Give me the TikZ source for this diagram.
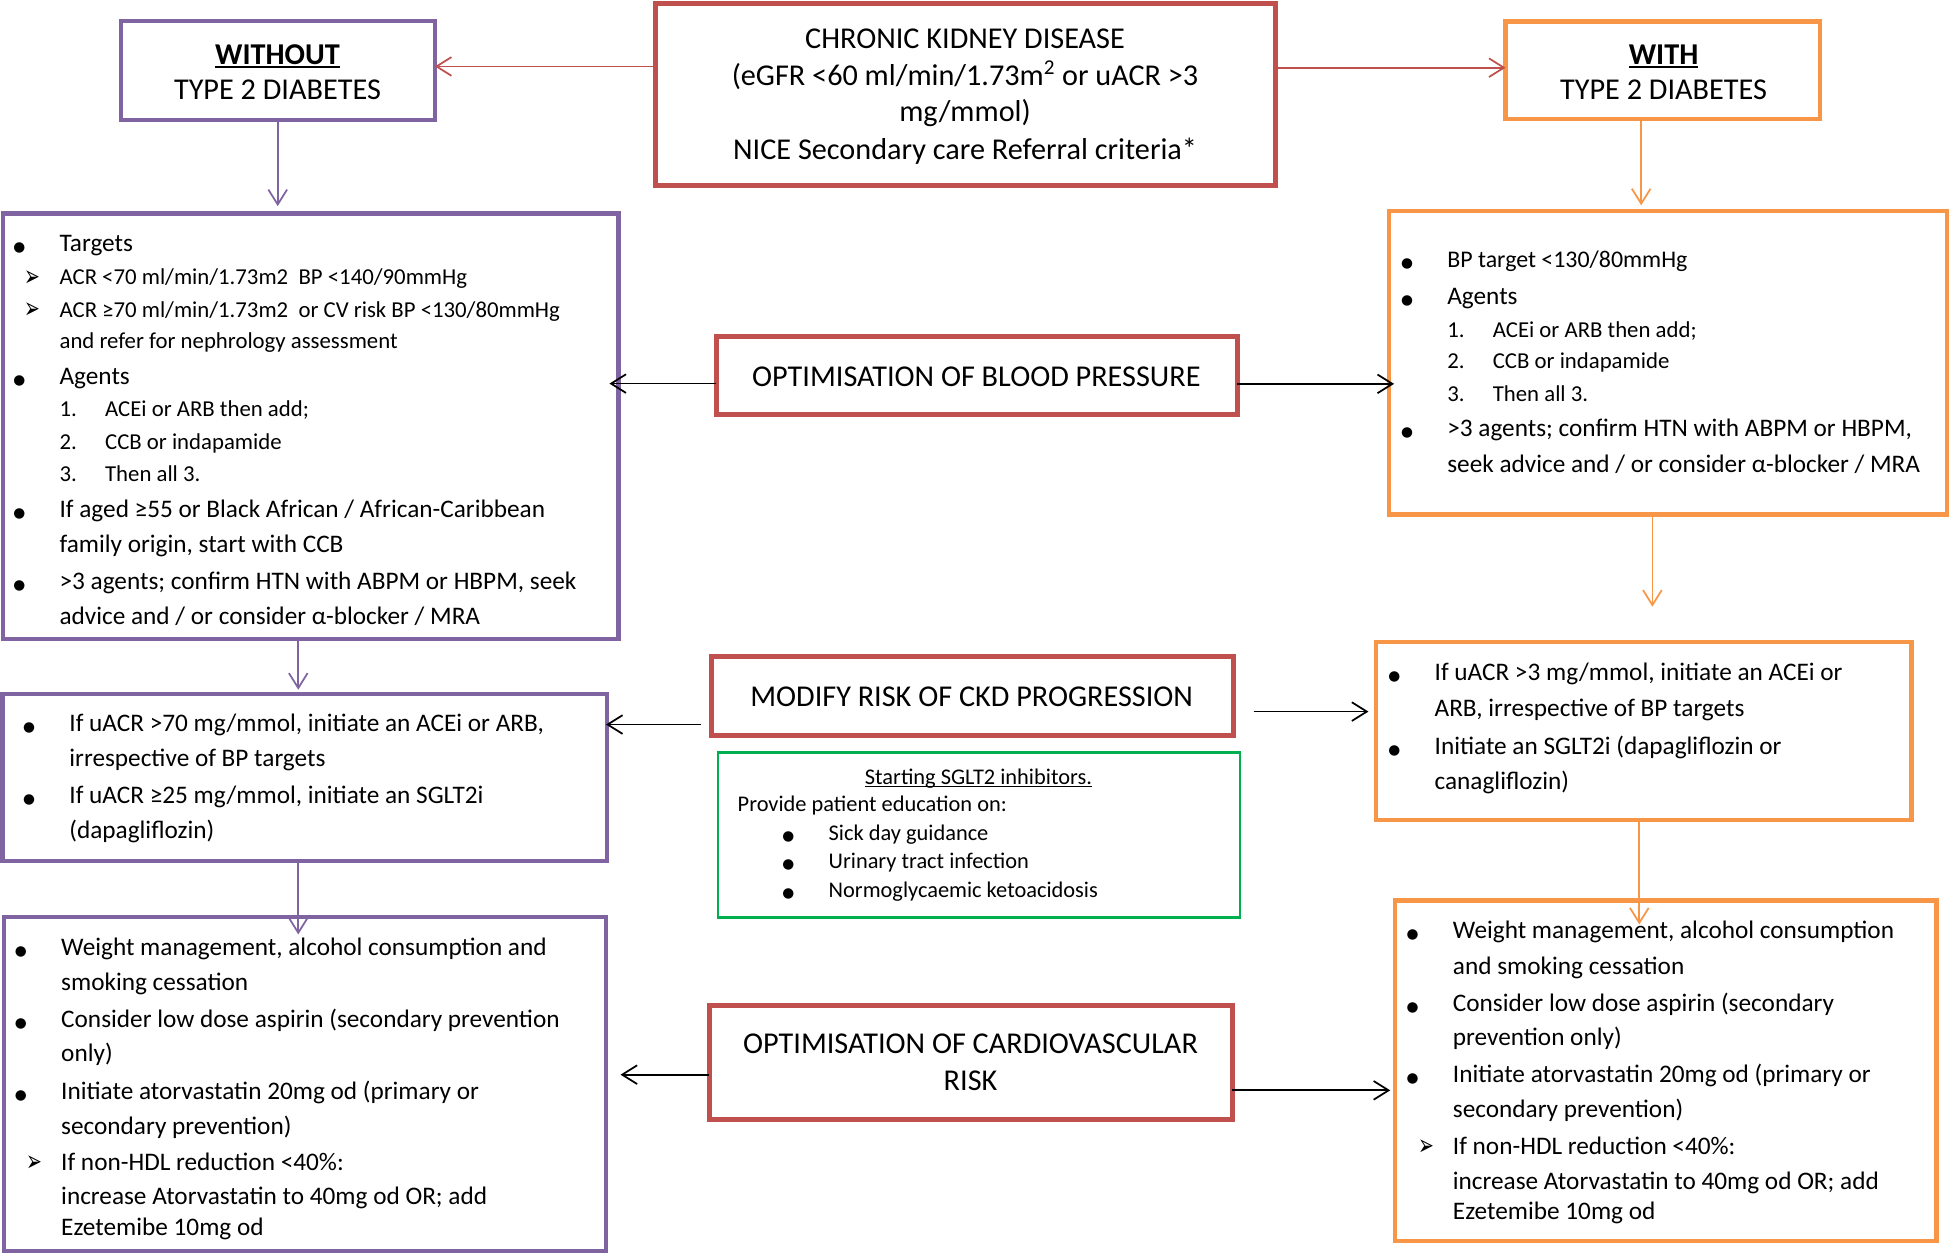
\documentclass[tikz,border=0pt]{standalone}
\usepackage{fontspec}
\setmainfont{Carlito}
\newfontfamily\dejavu{DejaVu Sans}
\usetikzlibrary{arrows.meta}
\definecolor{cpur}{HTML}{8064A2}
\definecolor{cred}{HTML}{C0504D}
\definecolor{cora}{HTML}{F79646}
\definecolor{cgrn}{HTML}{00B050}
\newcommand\Ls[1]{\hbox{\smash{#1}}}
\newcommand\Lc[1]{\hbox to 0pt{\hss\smash{#1}\hss}}
\newcommand\fB{\fontsize{20.3}{24}\selectfont}
\newcommand\fS{\fontsize{18.3}{22}\selectfont}
\newcommand\fT{\fontsize{24.3}{29}\selectfont}
\newcommand\fG{\fontsize{18}{22}\selectfont}
\newcommand\bul{\llap{\makebox[32.4pt][l]{\makebox[0pt]{\dejavu\fontsize{11}{11}\selectfont ●}}}}
\newcommand\arr{\llap{\makebox[21.5pt][l]{\makebox[0pt]{\raisebox{-1pt}{\scalebox{0.8}[1.25]{\dejavu\fontsize{19}{19}\selectfont ➢}}}}}}
\newcommand\num[1]{\makebox[36.6pt][l]{#1}}
\newcommand\thul[3]{\setbox0\hbox{#1}\rlap{\rule[-#2]{\wd0}{#3}}\box0}
\begin{document}
\begin{tikzpicture}[x=1pt,y=-1pt,
  pbox/.style={draw=cpur, line width=3.5pt, anchor=north west, inner sep=0pt, outer sep=0pt},
  rbox/.style={draw=cred, line width=4pt, anchor=north west, inner sep=0pt, outer sep=0pt},
  obox/.style={draw=cora, line width=3.5pt, anchor=north west, inner sep=0pt, outer sep=0pt},
  gbox/.style={draw=cgrn, line width=2pt, anchor=north west, inner sep=0pt, outer sep=0pt},
  txt/.style={anchor=base west, inner sep=0pt},
  ctxt/.style={anchor=base, inner sep=0pt},
  con/.style={line width=1.4pt, -{Straight Barb[length=12pt,width=15pt]}}]
\fill[white] (0,0) rectangle (1568,1008);
\useasboundingbox (0,0) rectangle (1568,1008);

% boxes
\node[pbox, minimum width=252.5pt, minimum height=79.5pt] (wo) at (97,17) {};
\node[rbox, minimum width=498pt, minimum height=146.2pt] (ckd) at (527,2.5) {};
\node[obox, minimum width=252.5pt, minimum height=78.4pt] (with) at (1210,17.3) {};
\node[pbox, minimum width=494.5pt, minimum height=341.8pt] (bpL) at (2.5,171.5) {};
\node[rbox, minimum width=418.7pt, minimum height=62.9pt] (bpC) at (575.5,270.6) {};
\node[obox, minimum width=448.5pt, minimum height=244.1pt] (bpR) at (1116.5,169.4) {};
\node[pbox, minimum width=486pt, minimum height=134.3pt] (ckdL) at (2,557.5) {};
\node[rbox, minimum width=419.8pt, minimum height=63pt] (mod) at (571.6,528) {};
\node[gbox, minimum width=419.4pt, minimum height=132.4pt] (grn) at (577,604.8) {};
\node[obox, minimum width=430.2pt, minimum height=143.3pt] (ckdR) at (1106,515.9) {};
\node[pbox, minimum width=484pt, minimum height=268.5pt] (cvL) at (3,737) {};
\node[rbox, minimum width=420.2pt, minimum height=91.5pt] (cvC) at (570,808.2) {};
\node[obox, minimum width=434.9pt, minimum height=273.4pt] (cvR) at (1121.3,723.8) {};

% headings
\node[ctxt] (wot) at (223,51.7) {\vtop{\offinterlineskip\fT
\Lc{\thul{\textbf{WITHOUT}}{3pt}{1.8pt}}\vskip28.3pt
\Lc{TYPE 2 DIABETES}}};
\node[ctxt] (witht) at (1337,51.7) {\vtop{\offinterlineskip\fT
\Lc{\thul{\textbf{WITH}}{3pt}{1.8pt}}\vskip28.3pt
\Lc{TYPE 2 DIABETES}}};
\node[ctxt] (ckdt) at (775.6,38.8) {\vtop{\offinterlineskip\fT
\Lc{CHRONIC KIDNEY DISEASE}\vskip30.3pt
\Lc{(eGFR <60 ml/min/1.73m\textsuperscript{2} or uACR >3}\vskip28.7pt
\Lc{mg/mmol)}\vskip30.2pt
\Lc{NICE Secondary care Referral criteria*}}};
\node[ctxt] (bpCt) at (784.7,310.8) {\fT OPTIMISATION OF BLOOD PRESSURE};
\node[ctxt] (modt) at (780.9,567.7) {\fT MODIFY RISK OF CKD PROGRESSION};
\node[ctxt] (cvCt) at (780,846.9) {\vtop{\offinterlineskip\fT
\Lc{OPTIMISATION OF CARDIOVASCULAR}\vskip29.7pt
\Lc{RISK}}};

% left BP
\node[txt] (bpLt) at (47.7,201.8) {\vtop{\offinterlineskip
\Ls{\fB\bul Targets}\vskip27.2pt
\Ls{\fS\arr ACR <70 ml/min/1.73m2\ \ BP <140/90mmHg}\vskip26pt
\Ls{\fS\arr ACR ≥70 ml/min/1.73m2\ \ or CV risk BP <130/80mmHg}\vskip25pt
\Ls{\fS and refer for nephrology assessment}\vskip29pt
\Ls{\fB\bul Agents}\vskip26pt
\Ls{\fS\num{1.}ACEi or ARB then add;}\vskip26pt
\Ls{\fS\num{2.}CCB or indapamide}\vskip26pt
\Ls{\fS\num{3.}Then all 3.}\vskip29pt
\Ls{\fB\bul If aged ≥55 or Black African / African-Caribbean}\vskip28pt
\Ls{\fB family origin, start with CCB}\vskip29.6pt
\Ls{\fB\bul >3 agents; confirm HTN with ABPM or HBPM, seek}\vskip28.4pt
\Ls{\fB advice and / or consider α-blocker / MRA}}};

% right BP
\node[txt] (bpRt) at (1163,215) {\vtop{\offinterlineskip
\Ls{\fontsize{19.2}{22}\selectfont\bul BP target <130/80mmHg}\vskip29.5pt
\Ls{\fB\bul Agents}\vskip26.5pt
\Ls{\fS\num{1.}ACEi or ARB then add;}\vskip25.5pt
\Ls{\fS\num{2.}CCB or indapamide}\vskip26pt
\Ls{\fS\num{3.}Then all 3.}\vskip28.5pt
\Ls{\fB\bul >3 agents; confirm HTN with ABPM or HBPM,}\vskip28.5pt
\Ls{\fB seek advice and / or consider α-blocker / MRA}}};

% left CKD
\node[txt] (ckdLt) at (55.6,588) {\vtop{\offinterlineskip
\Ls{\fB\bul If uACR >70 mg/mmol, initiate an ACEi or ARB,}\vskip28pt
\Ls{\fB irrespective of BP targets}\vskip30pt
\Ls{\fB\bul If uACR ≥25 mg/mmol, initiate an SGLT2i}\vskip28pt
\Ls{\fB (dapagliflozin)}}};

% right CKD
\node[txt] (ckdRt) at (1152.8,547.2) {\vtop{\offinterlineskip
\Ls{\fB\bul If uACR >3 mg/mmol, initiate an ACEi or}\vskip28.8pt
\Ls{\fB ARB, irrespective of BP targets}\vskip30.4pt
\Ls{\fB\bul Initiate an SGLT2i (dapagliflozin or}\vskip27.8pt
\Ls{\fB canagliflozin)}}};

% green
\node[ctxt] (grnt) at (786.4,630.4) {\fG\thul{Starting SGLT2 inhibitors.}{2.5pt}{1.1pt}};
\node[txt] (grnl) at (592.7,651.8) {\vtop{\offinterlineskip\fG
\Ls{Provide patient education on:}\vskip24pt
\Ls{\hspace*{73.1pt}\bul Sick day guidance}\vskip22.4pt
\Ls{\hspace*{73.1pt}\bul Urinary tract infection}\vskip23.3pt
\Ls{\hspace*{73.1pt}\bul Normoglycaemic ketoacidosis}}};

% left CV
\node[txt] (cvLt) at (49,768) {\vtop{\offinterlineskip\fB
\Ls{\bul Weight management, alcohol consumption and}\vskip27.7pt
\Ls{smoking cessation}\vskip29.8pt
\Ls{\bul Consider low dose aspirin (secondary prevention}\vskip27.8pt
\Ls{only)}\vskip30.4pt
\Ls{\bul Initiate atorvastatin 20mg od (primary or}\vskip28.1pt
\Ls{secondary prevention)}\vskip28.8pt
\Ls{\arr If non-HDL reduction <40\%:}\vskip27.8pt
\Ls{increase Atorvastatin to 40mg od OR; add}\vskip24.6pt
\Ls{Ezetemibe 10mg od}}};

% right CV
\node[txt] (cvRt) at (1167.5,754.2) {\vtop{\offinterlineskip\fB
\Ls{\bul Weight management, alcohol consumption}\vskip28.8pt
\Ls{and smoking cessation}\vskip29.7pt
\Ls{\bul Consider low dose aspirin (secondary}\vskip27.8pt
\Ls{prevention only)}\vskip29.7pt
\Ls{\bul Initiate atorvastatin 20mg od (primary or}\vskip27.8pt
\Ls{secondary prevention)}\vskip29.8pt
\Ls{\arr If non-HDL reduction <40\%:}\vskip27.8pt
\Ls{increase Atorvastatin to 40mg od OR; add}\vskip24.6pt
\Ls{Ezetemibe 10mg od}}};

% free ends
\coordinate (e8) at (1328,487.6);
\coordinate (e11) at (239.7,751);
\coordinate (e12) at (1317.5,743);

% connectors
\draw[con, cred] (ckd.west |- 0,53.4) -- (wo.east |- 0,53.4);
\draw[con, cred] (ckd.east |- 0,54.4) -- (with.west |- 0,54.4);
\draw[con, cpur, shorten >=5.8pt] (wo.south -| 223.2,0) -- (bpL.north -| 223.2,0);
\draw[con, cora, shorten >=4.4pt] (with.south -| 1319,0) -- (bpR.north -| 1319,0);
\draw[con, shorten >=-7.2pt] (bpC.west |- 0,308.3) -- (bpL.east |- 0,308.3);
\draw[con, shorten >=-3.9pt] (bpC.east |- 0,308.5) -- (bpR.west |- 0,308.5);
\draw[con, cpur, shorten >=3.2pt] (bpL.south -| 239.7,0) -- (ckdL.north -| 239.7,0);
\draw[con, cora] (bpR.south -| 1328,0) -- (e8);
\draw[con, shorten <=8.1pt, shorten >=-1pt] (mod.west |- 0,582.3) -- (ckdL.east |- 0,582.3);
\draw[con, shorten <=16.1pt, shorten >=6.2pt] (mod.east |- 0,571.9) -- (ckdR.west |- 0,571.9);
\draw[con, cpur] (ckdL.south -| 239.7,0) -- (e11);
\draw[con, cora] (ckdR.south -| 1317.5,0) -- (e12);
\draw[con, shorten >=11.7pt] (cvC.west |- 0,863.7) -- (cvL.east |- 0,863.7);
\draw[con, shorten >=4pt] (cvC.east |- 0,876.3) -- (cvR.west |- 0,876.3);
\end{tikzpicture}
\end{document}
